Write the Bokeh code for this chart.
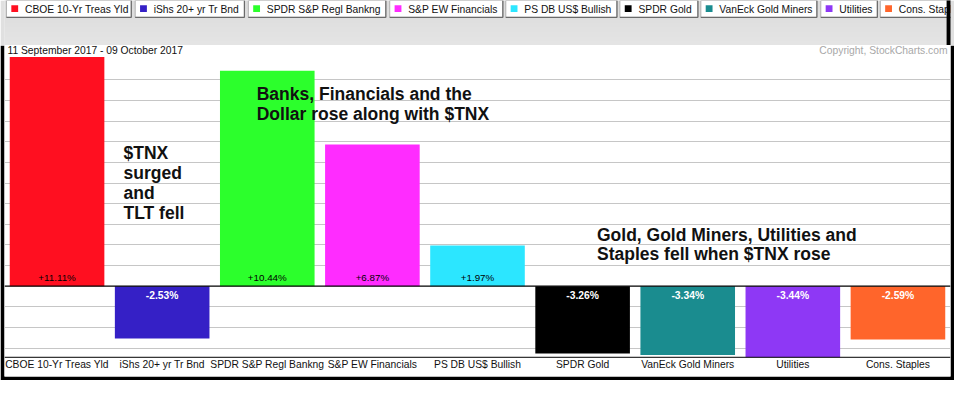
import numpy as np
from bokeh.plotting import figure
from bokeh.models import ColumnDataSource, FactorRange, Range1d, Span, Label, FixedTicker, Grid
from bokeh.layouts import column
from bokeh.core.properties import value
from bokeh.embed import file_html
from bokeh.resources import INLINE

# ---------------- data ----------------
categories = ["CBOE 10-Yr Treas Yld", "iShs 20+ yr Tr Bnd", "SPDR S&P Regl Bankng",
              "S&P EW Financials", "PS DB US$ Bullish", "SPDR Gold",
              "VanEck Gold Miners", "Utilities", "Cons. Staples"]
pct_change = [11.11, -2.53, 10.44, 6.87, 1.97, -3.26, -3.34, -3.44, -2.59]
bar_colors = ["#ff0f20", "#3520c6", "#2cff2c", "#ff2cff", "#2ce6ff",
              "#000000", "#1a8c8f", "#8e38f5", "#ff652b"]
grid_ticks = [-3, -2, -1, 1, 2, 3, 4, 5, 6, 7, 8, 9, 10]
date_range = "11 September 2017 - 09 October 2017"
copyright_text = "Copyright, StockCharts.com"
note_tnx = ["$TNX", "surged", "and", "TLT fell"]
note_banks = ["Banks, Financials and the", "Dollar rose along with $TNX"]
note_gold = ["Gold, Gold Miners, Utilities and", "Staples fell when $TNX rose"]

FONT = "Liberation Sans"
W, H = 954, 380
HA = 45
HB = H - HA

# ---------------- header (legend strip) ----------------
hdr = figure(width=W, height=HA, x_range=Range1d(0, 970), y_range=Range1d(46.5, 0),
             toolbar_location=None, output_backend="svg", title=None,
             x_axis_location=None, y_axis_location=None, outline_line_color=None,
             background_fill_color="#e0e0e0", border_fill_color="#e0e0e0",
             min_border_left=0, min_border_right=0, min_border_top=0, min_border_bottom=0)
hdr.grid.visible = False

stripe_edges = np.linspace(0, 46.5, 11)
stripe_cols = ["#dcdcdc", "#dcdcdc", "#dddddd", "#dedede", "#dfdfdf", "#e0e0e0",
               "#e1e1e1", "#e2e2e2", "#e3e3e3", "#e4e4e4"]
hdr.quad(left=0, right=970, top=stripe_edges[:-1], bottom=stripe_edges[1:],
         fill_color=stripe_cols, line_color=None)

box_left = [2, 134, 250, 395, 514, 631, 714, 837, 898]
box_right = [130, 246, 391, 511, 628, 711, 833, 895, 975]
hdr.quad(left=box_left, right=box_right, top=0, bottom=17.5,
         fill_color="white", line_color="#b0b0b0", line_width=1)
hdr.segment(x0=box_left, y0=17.5, x1=box_right, y1=17.5, line_color="#6a6a6a", line_width=1.2)
hdr.segment(x0=box_right, y0=0, x1=box_right, y1=17.5, line_color="#6a6a6a", line_width=1.2)
bl = np.array(box_left, dtype=float)
hdr.quad(left=bl + 5, right=bl + 12, top=5, bottom=12, fill_color=bar_colors, line_color=None)
hdr.text(x=bl + 19, y=9, text=categories, text_font=value(FONT), text_font_size="10.3px",
         text_align="left", text_baseline="middle", text_color="#111111")
hdr.quad(left=966, right=980, top=-2, bottom=50, fill_color="black", line_color=None)

# ---------------- main chart ----------------
p = figure(width=W, height=HB, x_range=FactorRange(*categories),
           y_range=Range1d(-4.378, 11.668),
           toolbar_location=None, output_backend="svg", title=None,
           x_axis_location=None, y_axis_location=None, outline_line_color=None,
           background_fill_color="white", border_fill_color="black",
           min_border_left=4, min_border_right=4, min_border_top=0, min_border_bottom=4)
p.grid.visible = False
p.add_layout(Grid(dimension=1, ticker=FixedTicker(ticks=grid_ticks),
                  grid_line_color="#c6c6c6", grid_line_width=1))

src = ColumnDataSource(dict(cat=categories, pct=pct_change, color=bar_colors))
p.vbar(x="cat", top="pct", bottom=0, width=0.9, fill_color="color", line_color=None, source=src)

p.add_layout(Span(location=0, dimension="width", line_color="black", line_width=1.3))
p.add_layout(Span(location=-3.447, dimension="width", line_color="black", line_width=1))

val_text = [f"{v:+.2f}%" for v in pct_change]
pos_src = ColumnDataSource(dict(
    cat=[c for c, v in zip(categories, pct_change) if v >= 0],
    t=[t for t, v in zip(val_text, pct_change) if v >= 0]))
neg_src = ColumnDataSource(dict(
    cat=[c for c, v in zip(categories, pct_change) if v < 0],
    t=[t for t, v in zip(val_text, pct_change) if v < 0]))
p.text(x="cat", y=0, text="t", source=pos_src, y_offset=-8.5, text_align="center",
       text_baseline="middle", text_font=value(FONT), text_font_size="9.8px", text_color="black")
p.text(x="cat", y=0, text="t", source=neg_src, y_offset=9, text_align="center",
       text_baseline="middle", text_font=value(FONT), text_font_size="10.3px",
       text_font_style="bold", text_color="white")

# category labels under the axis line
p.text(x=categories, y=-3.82, text=categories, text_align="center", text_baseline="middle",
       text_font=value(FONT), text_font_size="10.3px", text_color="#111111")

SX = 946 / 962.0


def sx(xr):
    return (xr - 4) * SX


def yv(yr):
    return (297 - yr) / 21.47


p.add_layout(Label(x=sx(7), y=yv(52), x_units="screen", text=date_range,
                   text_font=FONT, text_font_size="10.3px", text_baseline="middle",
                   text_color="#111111"))
p.add_layout(Label(x=sx(963), y=yv(52), x_units="screen", text=copyright_text,
                   text_font=FONT, text_font_size="10.3px", text_baseline="middle",
                   text_align="right", text_color="#a8a8a8"))


def add_note(lines, x0, y0, step):
    for i, line in enumerate(lines):
        p.add_layout(Label(x=sx(x0), y=yv(y0 + i * step), x_units="screen", text=line,
                           text_font=FONT, text_font_size="17.5px", text_font_style="bold",
                           text_baseline="middle", text_color="#111111"))


add_note(note_tnx, 125, 158, 20.8)
add_note(note_banks, 260.5, 97, 21)
add_note(note_gold, 606.5, 244, 20)

layout = column(hdr, p, spacing=0)
open("out.html", "w").write(file_html(layout, INLINE))
